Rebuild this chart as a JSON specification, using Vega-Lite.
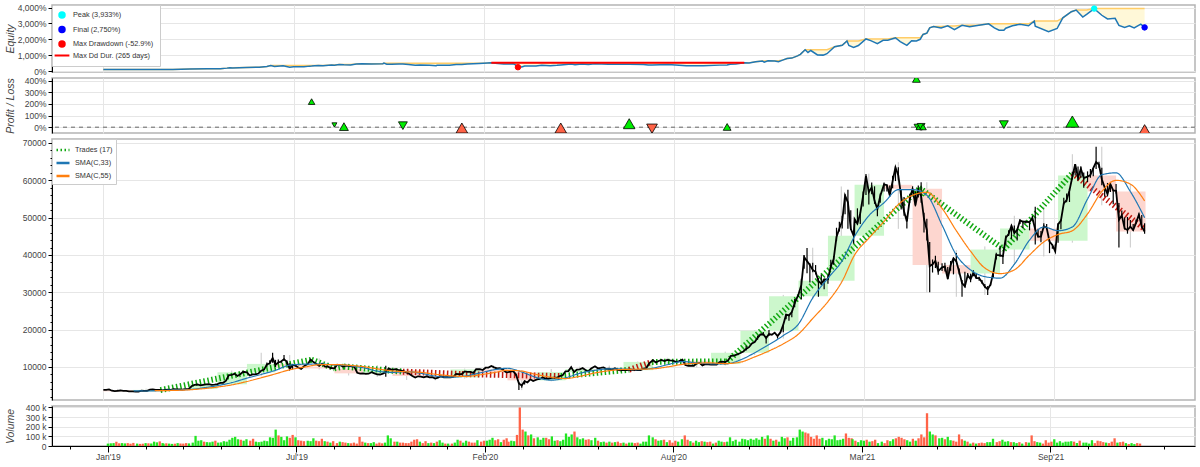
{
"$schema":"https://vega.github.io/schema/vega-lite/v6.json",
"background":"white",
"padding":{"left":4,"top":2,"right":4,"bottom":0},
"bounds":"flush",
"spacing":6,
"resolve":{"scale":{"color":"independent","stroke":"independent","shape":"independent","strokeDash":"independent","size":"independent"},"legend":{"color":"independent","stroke":"independent","shape":"independent","strokeDash":"independent","size":"independent"}},
"config":{
 "font":"Liberation Sans",
 "view":{"stroke":"#b4b4b4","strokeWidth":1.5},
 "axis":{"labelFont":"Liberation Sans","titleFont":"Liberation Sans","labelFontSize":8.5,"labelColor":"#444","titleFontSize":10.5,"titleFontStyle":"italic","titleFontWeight":"normal","titleColor":"#444","gridColor":"#e6e6e6","domainColor":"#000","tickColor":"#000","tickCount":500},
 "axisY":{"minExtent":34,"maxExtent":34,"titlePadding":3,"tickSize":4,"labelPadding":2},
 "legend":{"labelFont":"Liberation Sans"}
},
"datasets":{
"px":[
{"d":"2019-01-01","c":3840,"v":25,"u":1},{"d":"2019-01-04","c":3850,"v":28,"u":1},{"d":"2019-01-07","c":4000,"v":30,"u":1},{"d":"2019-01-10","c":3630,"v":45,"u":0},{"d":"2019-01-13","c":3510,"v":28,"u":0},{"d":"2019-01-16","c":3620,"v":30,"u":1},{"d":"2019-01-19","c":3700,"v":27,"u":1},{"d":"2019-01-22","c":3590,"v":30,"u":0},{"d":"2019-01-25","c":3570,"v":24,"u":0},{"d":"2019-01-28","c":3440,"v":32,"u":0},
{"d":"2019-02-01","c":3480,"v":25,"u":1},{"d":"2019-02-04","c":3410,"v":22,"u":0},{"d":"2019-02-07","c":3400,"v":24,"u":0},{"d":"2019-02-10","c":3650,"v":30,"u":1},{"d":"2019-02-13","c":3600,"v":28,"u":0},{"d":"2019-02-16","c":3620,"v":26,"u":1},{"d":"2019-02-19","c":3920,"v":45,"u":1},{"d":"2019-02-22","c":3990,"v":38,"u":1},{"d":"2019-02-25","c":3840,"v":48,"u":0},{"d":"2019-02-28","c":3850,"v":30,"u":1},
{"d":"2019-03-01","c":3860,"v":24,"u":1},{"d":"2019-03-04","c":3740,"v":28,"u":0},{"d":"2019-03-07","c":3880,"v":25,"u":1},{"d":"2019-03-10","c":3930,"v":22,"u":1},{"d":"2019-03-13","c":3870,"v":24,"u":0},{"d":"2019-03-16","c":4030,"v":30,"u":1},{"d":"2019-03-19","c":4010,"v":26,"u":0},{"d":"2019-03-22","c":4000,"v":25,"u":0},{"d":"2019-03-25","c":3920,"v":30,"u":0},{"d":"2019-03-28","c":4050,"v":27,"u":1},
{"d":"2019-04-01","c":4140,"v":35,"u":1},{"d":"2019-04-04","c":4900,"v":105,"u":1},{"d":"2019-04-07","c":5180,"v":55,"u":1},{"d":"2019-04-10","c":5300,"v":60,"u":1},{"d":"2019-04-13","c":5070,"v":45,"u":0},{"d":"2019-04-16","c":5220,"v":40,"u":1},{"d":"2019-04-19","c":5310,"v":38,"u":1},{"d":"2019-04-22","c":5400,"v":45,"u":1},{"d":"2019-04-25","c":5200,"v":55,"u":0},{"d":"2019-04-28","c":5280,"v":35,"u":1},
{"d":"2019-05-01","c":5400,"v":38,"u":1},{"d":"2019-05-04","c":5750,"v":50,"u":1},{"d":"2019-05-07","c":5750,"v":45,"u":1},{"d":"2019-05-10","c":6350,"v":65,"u":1},{"d":"2019-05-13","c":7800,"v":85,"u":1},{"d":"2019-05-16","c":7900,"v":95,"u":1},{"d":"2019-05-19","c":8200,"v":70,"u":1},{"d":"2019-05-22","c":7600,"v":65,"u":0},{"d":"2019-05-25","c":8050,"v":55,"u":1},{"d":"2019-05-28","c":8700,"v":70,"u":1},
{"d":"2019-06-01","c":8550,"v":55,"u":0},{"d":"2019-06-04","c":7700,"v":75,"u":0},{"d":"2019-06-07","c":8000,"v":45,"u":1},{"d":"2019-06-10","c":8000,"v":40,"u":1},{"d":"2019-06-13","c":8230,"v":45,"u":1},{"d":"2019-06-16","c":8990,"v":55,"u":1},{"d":"2019-06-19","c":9280,"v":50,"u":1},{"d":"2019-06-22","c":10700,"v":90,"u":1,"h":11200,"l":10100},{"d":"2019-06-25","c":11000,"v":85,"u":1,"h":11800,"l":10700},{"d":"2019-06-28","c":12400,"v":170,"u":1,"h":13800,"l":11100},
{"d":"2019-07-01","c":10600,"v":110,"u":0,"h":11900,"l":10000},{"d":"2019-07-04","c":11200,"v":95,"u":1,"h":12000,"l":10900},{"d":"2019-07-07","c":11450,"v":60,"u":1,"h":11650,"l":11000},{"d":"2019-07-10","c":12100,"v":100,"u":1,"h":13200,"l":11600},{"d":"2019-07-13","c":11350,"v":85,"u":0,"h":11800,"l":10800},{"d":"2019-07-16","c":9450,"v":115,"u":0,"h":11000,"l":9350},{"d":"2019-07-19","c":10600,"v":90,"u":1,"h":10700,"l":9350},{"d":"2019-07-22","c":10350,"v":60,"u":0},{"d":"2019-07-25","c":9870,"v":55,"u":0},{"d":"2019-07-28","c":9500,"v":50,"u":0},
{"d":"2019-08-01","c":10400,"v":55,"u":1},{"d":"2019-08-04","c":10800,"v":50,"u":1},{"d":"2019-08-07","c":11950,"v":80,"u":1},{"d":"2019-08-10","c":11300,"v":55,"u":0},{"d":"2019-08-13","c":10800,"v":50,"u":0},{"d":"2019-08-16","c":10300,"v":75,"u":0},{"d":"2019-08-19","c":10900,"v":50,"u":1},{"d":"2019-08-22","c":10100,"v":45,"u":0},{"d":"2019-08-25","c":10150,"v":35,"u":1},{"d":"2019-08-28","c":9720,"v":50,"u":0},
{"d":"2019-09-01","c":9630,"v":30,"u":0},{"d":"2019-09-04","c":10600,"v":45,"u":1},{"d":"2019-09-07","c":10450,"v":40,"u":0},{"d":"2019-09-10","c":10100,"v":35,"u":0},{"d":"2019-09-13","c":10350,"v":30,"u":1},{"d":"2019-09-16","c":10270,"v":28,"u":0},{"d":"2019-09-19","c":10180,"v":35,"u":0},{"d":"2019-09-22","c":10000,"v":25,"u":0},{"d":"2019-09-25","c":8450,"v":95,"u":0},{"d":"2019-09-28","c":8200,"v":45,"u":0},
{"d":"2019-10-01","c":8300,"v":35,"u":1},{"d":"2019-10-04","c":8150,"v":30,"u":0},{"d":"2019-10-07","c":8200,"v":30,"u":1},{"d":"2019-10-10","c":8600,"v":40,"u":1},{"d":"2019-10-13","c":8300,"v":25,"u":0},{"d":"2019-10-16","c":8000,"v":35,"u":0},{"d":"2019-10-19","c":7980,"v":28,"u":0},{"d":"2019-10-22","c":8200,"v":35,"u":1},{"d":"2019-10-25","c":8660,"v":110,"u":1,"h":10300,"l":7400},{"d":"2019-10-28","c":9550,"v":80,"u":1},
{"d":"2019-11-01","c":9250,"v":45,"u":0},{"d":"2019-11-04","c":9410,"v":45,"u":1},{"d":"2019-11-07","c":9200,"v":35,"u":0},{"d":"2019-11-10","c":9050,"v":35,"u":0},{"d":"2019-11-13","c":8800,"v":30,"u":0},{"d":"2019-11-16","c":8500,"v":30,"u":0},{"d":"2019-11-19","c":8100,"v":45,"u":0},{"d":"2019-11-22","c":7600,"v":65,"u":0},{"d":"2019-11-25","c":7150,"v":70,"u":0},{"d":"2019-11-28","c":7500,"v":45,"u":1},
{"d":"2019-12-01","c":7420,"v":30,"u":0},{"d":"2019-12-04","c":7200,"v":50,"u":0},{"d":"2019-12-07","c":7500,"v":30,"u":1},{"d":"2019-12-10","c":7220,"v":35,"u":0},{"d":"2019-12-13","c":7250,"v":30,"u":1},{"d":"2019-12-16","c":6900,"v":45,"u":0},{"d":"2019-12-19","c":7150,"v":60,"u":1},{"d":"2019-12-22","c":7500,"v":35,"u":1},{"d":"2019-12-25","c":7250,"v":25,"u":0},{"d":"2019-12-28","c":7300,"v":25,"u":1},
{"d":"2020-01-01","c":7200,"v":25,"u":0},{"d":"2020-01-04","c":7350,"v":35,"u":1},{"d":"2020-01-07","c":8150,"v":65,"u":1},{"d":"2020-01-10","c":8050,"v":55,"u":0},{"d":"2020-01-13","c":8110,"v":35,"u":1},{"d":"2020-01-16","c":8800,"v":55,"u":1},{"d":"2020-01-19","c":8700,"v":45,"u":0},{"d":"2020-01-22","c":8660,"v":35,"u":0},{"d":"2020-01-25","c":8400,"v":35,"u":0},{"d":"2020-01-28","c":9400,"v":60,"u":1},
{"d":"2020-02-01","c":9390,"v":45,"u":0},{"d":"2020-02-04","c":9180,"v":55,"u":0},{"d":"2020-02-07","c":9800,"v":55,"u":1},{"d":"2020-02-10","c":9850,"v":65,"u":1},{"d":"2020-02-13","c":10250,"v":85,"u":1},{"d":"2020-02-16","c":9900,"v":60,"u":0},{"d":"2020-02-19","c":9600,"v":70,"u":0},{"d":"2020-02-22","c":9700,"v":40,"u":1},{"d":"2020-02-25","c":9300,"v":65,"u":0},{"d":"2020-02-28","c":8700,"v":80,"u":0},
{"d":"2020-03-01","c":8550,"v":45,"u":0},{"d":"2020-03-04","c":8760,"v":55,"u":1},{"d":"2020-03-07","c":8900,"v":50,"u":1},{"d":"2020-03-10","c":7950,"v":115,"u":0,"h":8200,"l":7600},{"d":"2020-03-13","c":5600,"v":400,"u":0,"h":5900,"l":3800},{"d":"2020-03-16","c":5050,"v":170,"u":0,"h":5400,"l":4450},{"d":"2020-03-19","c":6200,"v":150,"u":1,"h":6400,"l":5300},{"d":"2020-03-22","c":5850,"v":110,"u":0},{"d":"2020-03-25","c":6700,"v":120,"u":1},{"d":"2020-03-28","c":6250,"v":80,"u":0},
{"d":"2020-04-01","c":6650,"v":90,"u":1},{"d":"2020-04-04","c":6780,"v":65,"u":1},{"d":"2020-04-07","c":7200,"v":85,"u":1},{"d":"2020-04-10","c":6880,"v":85,"u":0},{"d":"2020-04-13","c":6850,"v":70,"u":0},{"d":"2020-04-16","c":7100,"v":100,"u":1},{"d":"2020-04-19","c":7130,"v":55,"u":1},{"d":"2020-04-22","c":7120,"v":60,"u":0},{"d":"2020-04-25","c":7540,"v":50,"u":1},{"d":"2020-04-28","c":7760,"v":65,"u":1},
{"d":"2020-05-01","c":8850,"v":130,"u":1},{"d":"2020-05-04","c":8900,"v":95,"u":1},{"d":"2020-05-07","c":9950,"v":120,"u":1},{"d":"2020-05-10","c":8600,"v":150,"u":0},{"d":"2020-05-13","c":9300,"v":90,"u":1},{"d":"2020-05-16","c":9380,"v":70,"u":1},{"d":"2020-05-19","c":9730,"v":80,"u":1},{"d":"2020-05-22","c":9180,"v":65,"u":0},{"d":"2020-05-25","c":8800,"v":70,"u":0},{"d":"2020-05-28","c":9570,"v":60,"u":1},
{"d":"2020-06-01","c":10200,"v":85,"u":1},{"d":"2020-06-04","c":9650,"v":55,"u":0},{"d":"2020-06-07","c":9750,"v":40,"u":1},{"d":"2020-06-10","c":9880,"v":45,"u":1},{"d":"2020-06-13","c":9470,"v":35,"u":0},{"d":"2020-06-16","c":9520,"v":45,"u":1},{"d":"2020-06-19","c":9300,"v":35,"u":0},{"d":"2020-06-22","c":9680,"v":40,"u":1},{"d":"2020-06-25","c":9250,"v":45,"u":0},{"d":"2020-06-28","c":9120,"v":30,"u":0},
{"d":"2020-07-01","c":9230,"v":35,"u":1},{"d":"2020-07-04","c":9130,"v":25,"u":0},{"d":"2020-07-07","c":9250,"v":35,"u":1},{"d":"2020-07-10","c":9270,"v":35,"u":1},{"d":"2020-07-13","c":9240,"v":30,"u":0},{"d":"2020-07-16","c":9130,"v":35,"u":0},{"d":"2020-07-19","c":9170,"v":25,"u":1},{"d":"2020-07-22","c":9550,"v":45,"u":1},{"d":"2020-07-25","c":9700,"v":45,"u":1},{"d":"2020-07-28","c":10950,"v":110,"u":1},
{"d":"2020-08-01","c":11800,"v":90,"u":1},{"d":"2020-08-04","c":11220,"v":70,"u":0},{"d":"2020-08-07","c":11600,"v":55,"u":1},{"d":"2020-08-10","c":11880,"v":60,"u":1},{"d":"2020-08-13","c":11600,"v":65,"u":0},{"d":"2020-08-16","c":11900,"v":40,"u":1},{"d":"2020-08-19","c":11770,"v":60,"u":0},{"d":"2020-08-22","c":11680,"v":35,"u":0},{"d":"2020-08-25","c":11350,"v":55,"u":0},{"d":"2020-08-28","c":11500,"v":45,"u":1},
{"d":"2020-09-01","c":11950,"v":70,"u":1},{"d":"2020-09-04","c":10520,"v":110,"u":0},{"d":"2020-09-07","c":10280,"v":65,"u":0},{"d":"2020-09-10","c":10350,"v":50,"u":1},{"d":"2020-09-13","c":10330,"v":35,"u":0},{"d":"2020-09-16","c":10950,"v":55,"u":1},{"d":"2020-09-19","c":11080,"v":40,"u":1},{"d":"2020-09-22","c":10420,"v":50,"u":0},{"d":"2020-09-25","c":10730,"v":45,"u":1},{"d":"2020-09-28","c":10700,"v":40,"u":0},
{"d":"2020-10-01","c":10620,"v":45,"u":0},{"d":"2020-10-04","c":10690,"v":25,"u":1},{"d":"2020-10-07","c":10650,"v":35,"u":0},{"d":"2020-10-10","c":11300,"v":55,"u":1},{"d":"2020-10-13","c":11430,"v":45,"u":1},{"d":"2020-10-16","c":11320,"v":40,"u":0},{"d":"2020-10-19","c":11750,"v":45,"u":1},{"d":"2020-10-22","c":12990,"v":90,"u":1},{"d":"2020-10-25","c":13030,"v":50,"u":1},{"d":"2020-10-28","c":13290,"v":65,"u":1},
{"d":"2020-11-01","c":13740,"v":45,"u":1},{"d":"2020-11-04","c":14150,"v":75,"u":1},{"d":"2020-11-07","c":14850,"v":70,"u":1,"h":15700,"l":14400},{"d":"2020-11-10","c":15300,"v":60,"u":1},{"d":"2020-11-13","c":16300,"v":75,"u":1},{"d":"2020-11-16","c":16700,"v":65,"u":1},{"d":"2020-11-19","c":17800,"v":80,"u":1,"h":18400,"l":17300},{"d":"2020-11-22","c":18700,"v":65,"u":1},{"d":"2020-11-25","c":18750,"v":95,"u":1,"h":19400,"l":18500},{"d":"2020-11-28","c":17750,"v":75,"u":0,"h":18200,"l":16300},
{"d":"2020-12-01","c":18800,"v":110,"u":1,"h":19900,"l":18300},{"d":"2020-12-04","c":18650,"v":75,"u":0},{"d":"2020-12-07","c":19200,"v":55,"u":1},{"d":"2020-12-10","c":18300,"v":65,"u":0,"h":18600,"l":17600},{"d":"2020-12-13","c":19250,"v":45,"u":1},{"d":"2020-12-16","c":21300,"v":95,"u":1,"h":21500,"l":19300},{"d":"2020-12-19","c":24000,"v":80,"u":1,"h":24200,"l":22800},{"d":"2020-12-22","c":23800,"v":90,"u":0,"h":24000,"l":22400},{"d":"2020-12-25","c":24700,"v":55,"u":1,"h":24800,"l":23300},{"d":"2020-12-28","c":27100,"v":85,"u":1,"h":28200,"l":26000},
{"d":"2021-01-01","c":29400,"v":90,"u":1,"h":29600,"l":28800},{"d":"2021-01-04","c":31950,"v":170,"u":1,"h":33600,"l":28100},{"d":"2021-01-07","c":39400,"v":150,"u":1,"h":40000,"l":36300},{"d":"2021-01-10","c":38350,"v":140,"u":0,"h":41900,"l":35100},{"d":"2021-01-13","c":37300,"v":130,"u":0,"h":37800,"l":32600},{"d":"2021-01-16","c":36000,"v":95,"u":0,"h":37900,"l":35400},{"d":"2021-01-19","c":35500,"v":75,"u":0,"h":37300,"l":34800},{"d":"2021-01-22","c":33000,"v":110,"u":0,"h":33800,"l":28800},{"d":"2021-01-25","c":32300,"v":75,"u":0,"h":34800,"l":31900},{"d":"2021-01-28","c":33400,"v":85,"u":1,"h":33700,"l":30800},
{"d":"2021-02-01","c":33500,"v":60,"u":1,"h":34700,"l":32300},{"d":"2021-02-04","c":36900,"v":75,"u":1,"h":38700,"l":36200},{"d":"2021-02-07","c":38900,"v":70,"u":1,"h":39700,"l":37400},{"d":"2021-02-10","c":44800,"v":110,"u":1,"h":47300,"l":43700},{"d":"2021-02-13","c":47100,"v":60,"u":1,"h":48900,"l":46300},{"d":"2021-02-16","c":49100,"v":65,"u":1,"h":50500,"l":47100},{"d":"2021-02-19","c":55900,"v":75,"u":1,"h":56300,"l":50900},{"d":"2021-02-22","c":54100,"v":130,"u":0,"h":57500,"l":47000},{"d":"2021-02-25","c":47000,"v":85,"u":0,"h":52000,"l":46700},{"d":"2021-02-28","c":45200,"v":80,"u":0,"h":46700,"l":43000},
{"d":"2021-03-01","c":49600,"v":70,"u":1,"h":49800,"l":45000},{"d":"2021-03-04","c":48400,"v":55,"u":0,"h":52500,"l":48100},{"d":"2021-03-07","c":51200,"v":40,"u":1,"h":51400,"l":48300},{"d":"2021-03-10","c":55900,"v":60,"u":1,"h":57000,"l":53000},{"d":"2021-03-13","c":61200,"v":55,"u":1,"h":61700,"l":56100},{"d":"2021-03-16","c":56800,"v":65,"u":0,"h":56900,"l":53500},{"d":"2021-03-19","c":58100,"v":45,"u":1,"h":59400,"l":56300},{"d":"2021-03-22","c":54500,"v":50,"u":0,"h":58400,"l":53700},{"d":"2021-03-25","c":52300,"v":65,"u":0,"h":53100,"l":50400},{"d":"2021-03-28","c":55800,"v":30,"u":1,"h":56500,"l":54000},
{"d":"2021-04-01","c":58900,"v":45,"u":1,"h":59400,"l":57000},{"d":"2021-04-04","c":58700,"v":30,"u":0,"h":58900,"l":57000},{"d":"2021-04-07","c":56000,"v":60,"u":0,"h":58600,"l":55500},{"d":"2021-04-10","c":59800,"v":50,"u":1,"h":61200,"l":57900},{"d":"2021-04-13","c":63500,"v":70,"u":1,"h":63700,"l":59800},{"d":"2021-04-16","c":61300,"v":80,"u":0,"h":63500,"l":60000},{"d":"2021-04-19","c":55700,"v":95,"u":0,"h":57500,"l":52200},{"d":"2021-04-22","c":51700,"v":85,"u":0,"h":55500,"l":50500},{"d":"2021-04-25","c":49000,"v":70,"u":0,"h":50500,"l":47100},{"d":"2021-04-28","c":54900,"v":60,"u":1,"h":56400,"l":53900},
{"d":"2021-05-01","c":57800,"v":45,"u":1,"h":58400,"l":57000},{"d":"2021-05-04","c":53300,"v":75,"u":0,"h":57000,"l":53000},{"d":"2021-05-07","c":57300,"v":55,"u":1,"h":58600,"l":55400},{"d":"2021-05-10","c":55800,"v":80,"u":0,"h":59500,"l":54000},{"d":"2021-05-13","c":49700,"v":120,"u":0,"h":51300,"l":46000},{"d":"2021-05-16","c":46700,"v":90,"u":0,"h":49700,"l":43900},{"d":"2021-05-19","c":37000,"v":340,"u":0,"h":43500,"l":30000},{"d":"2021-05-22","c":37500,"v":150,"u":1,"h":38800,"l":35300},{"d":"2021-05-25","c":38400,"v":120,"u":1,"h":39800,"l":36500},{"d":"2021-05-28","c":35700,"v":110,"u":0,"h":38200,"l":34700},
{"d":"2021-06-01","c":36700,"v":80,"u":1,"h":37800,"l":35700},{"d":"2021-06-04","c":36900,"v":85,"u":1,"h":37900,"l":35600},{"d":"2021-06-07","c":33600,"v":70,"u":0,"h":36800,"l":33400},{"d":"2021-06-10","c":37300,"v":95,"u":1,"h":38400,"l":35800},{"d":"2021-06-13","c":39100,"v":60,"u":1,"h":39300,"l":34800},{"d":"2021-06-16","c":38300,"v":55,"u":0,"h":40500,"l":38100},{"d":"2021-06-19","c":35500,"v":45,"u":0,"h":36400,"l":34800},{"d":"2021-06-22","c":32500,"v":120,"u":0,"h":33300,"l":28800},{"d":"2021-06-25","c":31600,"v":70,"u":0,"h":35500,"l":31300},{"d":"2021-06-28","c":34600,"v":55,"u":1,"h":35200,"l":33900},
{"d":"2021-07-01","c":33500,"v":45,"u":0,"h":35000,"l":32700},{"d":"2021-07-04","c":35300,"v":25,"u":1,"h":35900,"l":34300},{"d":"2021-07-07","c":33800,"v":35,"u":0,"h":35000,"l":33700},{"d":"2021-07-10","c":33800,"v":25,"u":1,"h":34200,"l":33100},{"d":"2021-07-13","c":32700,"v":30,"u":0,"h":33300,"l":32300},{"d":"2021-07-16","c":31500,"v":35,"u":0,"h":32200,"l":31200},{"d":"2021-07-19","c":30800,"v":30,"u":0,"h":31700,"l":29300},{"d":"2021-07-22","c":32100,"v":40,"u":1,"h":32500,"l":31700},{"d":"2021-07-25","c":35400,"v":40,"u":1,"h":35400,"l":33900},{"d":"2021-07-28","c":40000,"v":75,"u":1,"h":40600,"l":38800},
{"d":"2021-08-01","c":39900,"v":40,"u":0,"h":42500,"l":39500},{"d":"2021-08-04","c":39700,"v":50,"u":0,"h":39900,"l":37600},{"d":"2021-08-07","c":44600,"v":65,"u":1,"h":45200,"l":42800},{"d":"2021-08-10","c":45600,"v":45,"u":1,"h":46600,"l":45100},{"d":"2021-08-13","c":47800,"v":50,"u":1,"h":48100,"l":44300},{"d":"2021-08-16","c":45900,"v":40,"u":0,"h":47900,"l":45500},{"d":"2021-08-19","c":46700,"v":40,"u":1,"h":47000,"l":43900},{"d":"2021-08-22","c":49300,"v":30,"u":1,"h":49500,"l":48300},{"d":"2021-08-25","c":48900,"v":40,"u":0,"h":49200,"l":47200},{"d":"2021-08-28","c":48900,"v":25,"u":1,"h":49200,"l":48400},
{"d":"2021-09-01","c":48800,"v":40,"u":0,"h":49100,"l":46600},{"d":"2021-09-04","c":49900,"v":35,"u":1,"h":50500,"l":49500},{"d":"2021-09-07","c":46800,"v":110,"u":0,"h":52900,"l":42800},{"d":"2021-09-10","c":44900,"v":50,"u":0,"h":47000,"l":44700},{"d":"2021-09-13","c":44900,"v":40,"u":1,"h":46400,"l":43400},{"d":"2021-09-16","c":47700,"v":35,"u":1,"h":48500,"l":47100},{"d":"2021-09-19","c":47300,"v":25,"u":0,"h":48300,"l":46900},{"d":"2021-09-22","c":43600,"v":60,"u":0,"h":44000,"l":40500},{"d":"2021-09-25","c":42700,"v":35,"u":0,"h":42800,"l":41700},{"d":"2021-09-28","c":41000,"v":45,"u":0,"h":42800,"l":40900},
{"d":"2021-10-01","c":48200,"v":70,"u":1,"h":48500,"l":43300},{"d":"2021-10-04","c":49200,"v":35,"u":1,"h":49500,"l":46900},{"d":"2021-10-07","c":53800,"v":50,"u":1,"h":55300,"l":53500},{"d":"2021-10-10","c":54700,"v":35,"u":1,"h":56500,"l":54100},{"d":"2021-10-13","c":57300,"v":45,"u":1,"h":57800,"l":54200},{"d":"2021-10-16","c":60900,"v":45,"u":1,"h":62300,"l":60200},{"d":"2021-10-19","c":64300,"v":50,"u":1,"h":64400,"l":61300},{"d":"2021-10-22","c":60700,"v":45,"u":0,"h":63700,"l":60000},{"d":"2021-10-25","c":63100,"v":30,"u":1,"h":63700,"l":60700},{"d":"2021-10-28","c":60600,"v":55,"u":0,"h":62100,"l":58000},
{"d":"2021-11-01","c":61000,"v":35,"u":1,"h":62400,"l":59500},{"d":"2021-11-04","c":61400,"v":35,"u":1,"h":63000,"l":60700},{"d":"2021-11-07","c":63300,"v":25,"u":1,"h":63300,"l":61100},{"d":"2021-11-10","c":64900,"v":60,"u":1,"h":69000,"l":63000},{"d":"2021-11-13","c":64200,"v":30,"u":0,"h":65000,"l":63400},{"d":"2021-11-16","c":60300,"v":55,"u":0,"h":63400,"l":58700},{"d":"2021-11-19","c":58100,"v":50,"u":0,"h":58300,"l":55600},{"d":"2021-11-22","c":56300,"v":40,"u":0,"h":59300,"l":55700},{"d":"2021-11-25","c":59000,"v":35,"u":1,"h":59300,"l":56900},{"d":"2021-11-28","c":57300,"v":30,"u":0,"h":57400,"l":53600},
{"d":"2021-12-01","c":57200,"v":45,"u":0,"h":59000,"l":56500},{"d":"2021-12-04","c":49400,"v":80,"u":0,"h":53900,"l":42000},{"d":"2021-12-07","c":50600,"v":35,"u":1,"h":51900,"l":50100},{"d":"2021-12-10","c":47100,"v":40,"u":0,"h":50100,"l":46800},{"d":"2021-12-13","c":46700,"v":45,"u":0,"h":50200,"l":45700},{"d":"2021-12-16","c":47600,"v":30,"u":1,"h":49400,"l":47500},{"d":"2021-12-19","c":46700,"v":20,"u":0,"h":48300,"l":46500},{"d":"2021-12-22","c":48600,"v":30,"u":1,"h":49500,"l":48400},{"d":"2021-12-25","c":50800,"v":20,"u":1,"h":51100,"l":50200},{"d":"2021-12-28","c":47600,"v":30,"u":0,"h":50700,"l":47300},{"d":"2021-12-31","c":46300,"v":25,"u":0,"h":48500,"l":45700}
],
"sma":[
{"d":"2019-02-02","a":3620},{"d":"2019-02-16","a":3560},{"d":"2019-02-24","a":3600,"b":3640},{"d":"2019-03-01","a":3660,"b":3640},{"d":"2019-03-16","a":3850,"b":3720},{"d":"2019-04-01","a":3960,"b":3870},{"d":"2019-04-16","a":4400,"b":4180},{"d":"2019-05-01","a":5000,"b":4620},{"d":"2019-05-16","a":5800,"b":5200},{"d":"2019-06-01","a":7000,"b":6100},{"d":"2019-06-16","a":8000,"b":7100},{"d":"2019-07-01","a":9100,"b":8150},{"d":"2019-07-16","a":10500,"b":9250},{"d":"2019-08-01","a":10750,"b":10000},{"d":"2019-08-16","a":10800,"b":10600},{"d":"2019-09-01","a":10550,"b":10650},{"d":"2019-09-16","a":10350,"b":10450},{"d":"2019-10-01","a":9800,"b":10100},{"d":"2019-10-16","a":8900,"b":9500},{"d":"2019-11-01","a":8550,"b":8950},{"d":"2019-11-16","a":8750,"b":8700},{"d":"2019-12-01","a":8300,"b":8550},{"d":"2019-12-16","a":7550,"b":8050},
{"d":"2020-01-01","a":7250,"b":7650},{"d":"2020-01-16","a":7550,"b":7450},{"d":"2020-02-01","a":8400,"b":7900},{"d":"2020-02-16","a":9250,"b":8500},{"d":"2020-03-01","a":9650,"b":9100},{"d":"2020-03-16","a":8650,"b":8900},{"d":"2020-04-01","a":7150,"b":7950},{"d":"2020-04-16","a":6450,"b":7250},{"d":"2020-05-01","a":7100,"b":6900},{"d":"2020-05-16","a":8300,"b":7500},{"d":"2020-06-01","a":9100,"b":8400},{"d":"2020-06-16","a":9500,"b":9000},{"d":"2020-07-01","a":9450,"b":9350},{"d":"2020-07-16","a":9300,"b":9400},{"d":"2020-08-01","a":9700,"b":9500},{"d":"2020-08-16","a":10600,"b":10000},{"d":"2020-09-01","a":11450,"b":10700},{"d":"2020-09-16","a":11100,"b":11000},{"d":"2020-10-01","a":10850,"b":11100},{"d":"2020-10-16","a":10800,"b":10900},{"d":"2020-11-01","a":11900,"b":11300},{"d":"2020-11-16","a":13800,"b":12700},{"d":"2020-12-01","a":16000,"b":14300},{"d":"2020-12-16","a":18400,"b":16200},
{"d":"2021-01-01","a":21500,"b":18800},{"d":"2021-01-16","a":28500,"b":23000},{"d":"2021-02-01","a":33800,"b":27500},{"d":"2021-02-16","a":38500,"b":33000},{"d":"2021-03-01","a":45000,"b":40000},{"d":"2021-03-16","a":50500,"b":44500},{"d":"2021-04-01","a":54000,"b":49000},{"d":"2021-04-16","a":57500,"b":53500},{"d":"2021-05-01","a":57500,"b":56000},{"d":"2021-05-16","a":56000,"b":56800},{"d":"2021-06-01","a":48000,"b":52500},{"d":"2021-06-16","a":40000,"b":46500},{"d":"2021-07-01","a":36000,"b":41000},{"d":"2021-07-16","a":34200,"b":36500},{"d":"2021-08-01","a":33800,"b":35000},{"d":"2021-08-16","a":37500,"b":36000},{"d":"2021-09-01","a":44000,"b":40000},{"d":"2021-09-16","a":47500,"b":43500},{"d":"2021-10-01","a":46500,"b":45500},{"d":"2021-10-16","a":47500,"b":46500},{"d":"2021-11-01","a":55000,"b":51000},{"d":"2021-11-16","a":61500,"b":57000},{"d":"2021-12-01","a":62000,"b":60000},{"d":"2021-12-16","a":57000,"b":59000},{"d":"2021-12-31","a":50000,"b":54500}
],
"mon":[
{"m":"2019-01-01","e":"2019-02-01","mid":"2019-01-16","o":3750,"c":3460,"h":4110,"l":3400,"u":0},
{"m":"2019-02-01","e":"2019-03-01","mid":"2019-02-15","o":3460,"c":3850,"h":4200,"l":3390,"u":1},
{"m":"2019-03-01","e":"2019-04-01","mid":"2019-03-16","o":3850,"c":4110,"h":4150,"l":3730,"u":1},
{"m":"2019-04-01","e":"2019-05-01","mid":"2019-04-16","o":4110,"c":5350,"h":5640,"l":4100,"u":1},
{"m":"2019-05-01","e":"2019-06-01","mid":"2019-05-16","o":5350,"c":8570,"h":9050,"l":5330,"u":1},
{"m":"2019-06-01","e":"2019-07-01","mid":"2019-06-16","o":8570,"c":10820,"h":13800,"l":7500,"u":1},
{"m":"2019-07-01","e":"2019-08-01","mid":"2019-07-16","o":10820,"c":10090,"h":13200,"l":9070,"u":0},
{"m":"2019-08-01","e":"2019-09-01","mid":"2019-08-16","o":10090,"c":9600,"h":12300,"l":9320,"u":0},
{"m":"2019-09-01","e":"2019-10-01","mid":"2019-09-16","o":9600,"c":8290,"h":10950,"l":7720,"u":0},
{"m":"2019-10-01","e":"2019-11-01","mid":"2019-10-16","o":8290,"c":9150,"h":10500,"l":7300,"u":1},
{"m":"2019-11-01","e":"2019-12-01","mid":"2019-11-16","o":9150,"c":7570,"h":9500,"l":6520,"u":0},
{"m":"2019-12-01","e":"2020-01-01","mid":"2019-12-16","o":7570,"c":7190,"h":7750,"l":6430,"u":0},
{"m":"2020-01-01","e":"2020-02-01","mid":"2020-01-16","o":7190,"c":9350,"h":9570,"l":6870,"u":1},
{"m":"2020-02-01","e":"2020-03-01","mid":"2020-02-15","o":9350,"c":8540,"h":10500,"l":8450,"u":0},
{"m":"2020-03-01","e":"2020-04-01","mid":"2020-03-16","o":8540,"c":6410,"h":9190,"l":3800,"u":0},
{"m":"2020-04-01","e":"2020-05-01","mid":"2020-04-16","o":6410,"c":8620,"h":9440,"l":6150,"u":1},
{"m":"2020-05-01","e":"2020-06-01","mid":"2020-05-16","o":8620,"c":9450,"h":10070,"l":8130,"u":1},
{"m":"2020-06-01","e":"2020-07-01","mid":"2020-06-16","o":9450,"c":9140,"h":10380,"l":8900,"u":0},
{"m":"2020-07-01","e":"2020-08-01","mid":"2020-07-16","o":9140,"c":11350,"h":11450,"l":8970,"u":1},
{"m":"2020-08-01","e":"2020-09-01","mid":"2020-08-16","o":11350,"c":11650,"h":12470,"l":10520,"u":1},
{"m":"2020-09-01","e":"2020-10-01","mid":"2020-09-16","o":11650,"c":10780,"h":12090,"l":9880,"u":0},
{"m":"2020-10-01","e":"2020-11-01","mid":"2020-10-16","o":10780,"c":13800,"h":14100,"l":10400,"u":1},
{"m":"2020-11-01","e":"2020-12-01","mid":"2020-11-16","o":13800,"c":19700,"h":19900,"l":13200,"u":1},
{"m":"2020-12-01","e":"2021-01-01","mid":"2020-12-16","o":19700,"c":28950,"h":29300,"l":17600,"u":1},
{"m":"2021-01-01","e":"2021-02-01","mid":"2021-01-16","o":28950,"c":33110,"h":41950,"l":28130,"u":1},
{"m":"2021-02-01","e":"2021-03-01","mid":"2021-02-15","o":33110,"c":45140,"h":58350,"l":32300,"u":1},
{"m":"2021-03-01","e":"2021-04-01","mid":"2021-03-16","o":45140,"c":58800,"h":61790,"l":45000,"u":1},
{"m":"2021-04-01","e":"2021-05-01","mid":"2021-04-16","o":58800,"c":57750,"h":64850,"l":47000,"u":0},
{"m":"2021-05-01","e":"2021-06-01","mid":"2021-05-16","o":57750,"c":37300,"h":59500,"l":30000,"u":0},
{"m":"2021-06-01","e":"2021-07-01","mid":"2021-06-16","o":37300,"c":35040,"h":41300,"l":28800,"u":0},
{"m":"2021-07-01","e":"2021-08-01","mid":"2021-07-16","o":35040,"c":41460,"h":42300,"l":29300,"u":1},
{"m":"2021-08-01","e":"2021-09-01","mid":"2021-08-16","o":41460,"c":47100,"h":50500,"l":37330,"u":1},
{"m":"2021-09-01","e":"2021-10-01","mid":"2021-09-16","o":47100,"c":43800,"h":52900,"l":39600,"u":0},
{"m":"2021-10-01","e":"2021-11-01","mid":"2021-10-16","o":43800,"c":61300,"h":67000,"l":43300,"u":1},
{"m":"2021-11-01","e":"2021-12-01","mid":"2021-11-16","o":61300,"c":57000,"h":69000,"l":53300,"u":0},
{"m":"2021-12-01","e":"2022-01-01","mid":"2021-12-16","o":57000,"c":46300,"h":59000,"l":42000,"u":0}
],
"eq":[
{"d":"2019-01-01","e":100,"p":100},{"d":"2019-03-02","e":100,"p":100},{"d":"2019-03-15","e":103,"p":103},{"d":"2019-04-02","e":129,"p":129},{"d":"2019-04-20","e":139,"p":139},{"d":"2019-05-04","e":151,"p":151},{"d":"2019-05-11","e":184,"p":184},{"d":"2019-05-14","e":210,"p":210},{"d":"2019-05-17","e":192,"p":210},{"d":"2019-05-31","e":226,"p":226},{"d":"2019-06-14","e":237,"p":237},{"d":"2019-06-22","e":290,"p":290},{"d":"2019-06-26","e":342,"p":342},{"d":"2019-06-30","e":284,"p":342},{"d":"2019-07-09","e":329,"p":342},{"d":"2019-07-16","e":247,"p":342},{"d":"2019-07-20","e":276,"p":342},{"d":"2019-07-31","e":266,"p":342},{"d":"2019-08-06","e":310,"p":342},{"d":"2019-08-08","e":313,"p":342},{"d":"2019-08-15","e":355,"p":355},{"d":"2019-08-20","e":339,"p":355},{"d":"2019-08-29","e":376,"p":376},{"d":"2019-09-01","e":373,"p":376},{"d":"2019-09-06","e":408,"p":408},{"d":"2019-09-11","e":392,"p":408},{"d":"2019-09-18","e":388,"p":408},{"d":"2019-09-24","e":450,"p":450},{"d":"2019-09-30","e":462,"p":462},{"d":"2019-10-10","e":450,"p":462},{"d":"2019-10-22","e":466,"p":466},{"d":"2019-10-23","e":497,"p":497},{"d":"2019-10-26","e":427,"p":497},{"d":"2019-10-31","e":429,"p":497},{"d":"2019-11-08","e":442,"p":497},{"d":"2019-11-12","e":444,"p":497},{"d":"2019-11-18","e":411,"p":497},{"d":"2019-11-25","e":360,"p":497},{"d":"2019-11-30","e":383,"p":497},{"d":"2019-12-10","e":365,"p":497},{"d":"2019-12-17","e":335,"p":497},{"d":"2019-12-18","e":370,"p":497},{"d":"2019-12-31","e":365,"p":497},
{"d":"2020-01-07","e":414,"p":497},{"d":"2020-01-13","e":411,"p":497},{"d":"2020-01-19","e":441,"p":497},{"d":"2020-01-31","e":474,"p":497},{"d":"2020-02-09","e":505,"p":505},{"d":"2020-02-13","e":515,"p":515},{"d":"2020-02-17","e":492,"p":515},{"d":"2020-02-26","e":447,"p":515},{"d":"2020-03-07","e":452,"p":515},{"d":"2020-03-09","e":401,"p":515},{"d":"2020-03-12","e":243,"p":515},{"d":"2020-03-13","e":284,"p":515},{"d":"2020-03-16","e":254,"p":515},{"d":"2020-03-19","e":315,"p":515},{"d":"2020-03-31","e":325,"p":515},{"d":"2020-04-06","e":370,"p":515},{"d":"2020-04-15","e":337,"p":515},{"d":"2020-04-22","e":360,"p":515},{"d":"2020-04-26","e":385,"p":515},{"d":"2020-05-07","e":440,"p":515},{"d":"2020-05-11","e":400,"p":515},{"d":"2020-05-18","e":445,"p":515},{"d":"2020-05-25","e":410,"p":515},{"d":"2020-06-01","e":460,"p":515},{"d":"2020-06-15","e":425,"p":515},{"d":"2020-07-07","e":430,"p":515},{"d":"2020-07-22","e":410,"p":515},{"d":"2020-07-27","e":382,"p":515},{"d":"2020-07-31","e":375,"p":515},{"d":"2020-08-17","e":405,"p":515},{"d":"2020-09-05","e":336,"p":515},{"d":"2020-09-23","e":338,"p":515},{"d":"2020-10-10","e":373,"p":515},{"d":"2020-10-18","e":380,"p":515},{"d":"2020-10-21","e":423,"p":515},{"d":"2020-10-27","e":450,"p":515},{"d":"2020-11-05","e":515,"p":515},{"d":"2020-11-10","e":505,"p":515},{"d":"2020-11-17","e":584,"p":584},{"d":"2020-11-24","e":632,"p":632},{"d":"2020-11-26","e":564,"p":632},{"d":"2020-11-30","e":650,"p":650},{"d":"2020-12-07","e":634,"p":650},{"d":"2020-12-11","e":594,"p":650},{"d":"2020-12-16","e":703,"p":703},{"d":"2020-12-20","e":792,"p":792},{"d":"2020-12-25","e":815,"p":815},{"d":"2020-12-31","e":957,"p":957},
{"d":"2021-01-03","e":1056,"p":1056},{"d":"2021-01-08","e":1340,"p":1340},{"d":"2021-01-11","e":1172,"p":1340},{"d":"2021-01-14","e":1294,"p":1340},{"d":"2021-01-21","e":1016,"p":1340},{"d":"2021-01-27","e":1003,"p":1340},{"d":"2021-01-31","e":1092,"p":1340},{"d":"2021-02-08","e":1531,"p":1531},{"d":"2021-02-16","e":1624,"p":1624},{"d":"2021-02-21","e":1898,"p":1898},{"d":"2021-02-23","e":1610,"p":1898},{"d":"2021-02-28","e":1492,"p":1898},{"d":"2021-03-05","e":1610,"p":1898},{"d":"2021-03-13","e":2020,"p":2020},{"d":"2021-03-18","e":1914,"p":2020},{"d":"2021-03-25","e":1726,"p":2020},{"d":"2021-03-31","e":1940,"p":2020},{"d":"2021-04-05","e":1937,"p":2020},{"d":"2021-04-13","e":2096,"p":2096},{"d":"2021-04-18","e":1855,"p":2096},{"d":"2021-04-25","e":1617,"p":2096},{"d":"2021-04-30","e":1907,"p":2096},{"d":"2021-05-05","e":1890,"p":2096},{"d":"2021-05-09","e":2000,"p":2096},{"d":"2021-05-12","e":2303,"p":2303},{"d":"2021-05-16","e":2390,"p":2390},{"d":"2021-05-19","e":2724,"p":2724},{"d":"2021-05-23","e":2803,"p":2803},{"d":"2021-05-31","e":2714,"p":2803},{"d":"2021-06-07","e":2845,"p":2845},{"d":"2021-06-14","e":2614,"p":2845},{"d":"2021-06-22","e":2879,"p":2879},{"d":"2021-06-30","e":2793,"p":2879},{"d":"2021-07-08","e":2869,"p":2879},{"d":"2021-07-20","e":2972,"p":2972},{"d":"2021-07-26","e":2714,"p":2972},{"d":"2021-07-31","e":2569,"p":2972},{"d":"2021-08-05","e":2569,"p":2972},{"d":"2021-08-07","e":2700,"p":2972},{"d":"2021-08-14","e":2850,"p":2972},{"d":"2021-08-22","e":2950,"p":2972},{"d":"2021-08-31","e":2850,"p":2972},{"d":"2021-09-06","e":3150,"p":3150},{"d":"2021-09-07","e":2830,"p":3150},{"d":"2021-09-21","e":2480,"p":3150},{"d":"2021-09-30","e":2680,"p":3150},{"d":"2021-10-06","e":3350,"p":3350},{"d":"2021-10-15","e":3740,"p":3740},{"d":"2021-10-20","e":3840,"p":3840},{"d":"2021-10-27","e":3403,"p":3840},{"d":"2021-10-31","e":3572,"p":3840},{"d":"2021-11-08","e":3933,"p":3933},{"d":"2021-11-16","e":3514,"p":3933},{"d":"2021-11-22","e":3281,"p":3933},{"d":"2021-11-30","e":3321,"p":3933},{"d":"2021-12-04","e":2878,"p":3933},{"d":"2021-12-10","e":2745,"p":3933},{"d":"2021-12-15","e":2849,"p":3933},{"d":"2021-12-20","e":2721,"p":3933},{"d":"2021-12-27","e":2954,"p":3933},{"d":"2021-12-31","e":2750,"p":3933}
],
"dd":[{"d":"2020-02-13","d2":"2020-11-05","e":515}],
"pts":[{"d":"2021-11-08","e":3933,"lab":"Peak (3,933%)"},{"d":"2021-12-31","e":2750,"lab":"Final (2,750%)"},{"d":"2020-03-12","e":243,"lab":"Max Drawdown (-52.9%)"}],
"tr":[
{"en":"2019-03-02","ex":"2019-08-08","pe":3800,"px":11950,"pl":220,"dir":"long","w":1,"sz":6},
{"en":"2019-08-08","ex":"2019-09-01","pe":11950,"px":9630,"pl":19,"dir":"short","w":1,"sz":5},
{"en":"2019-09-01","ex":"2019-09-11","pe":9630,"px":10100,"pl":5,"dir":"long","w":1,"sz":8},
{"en":"2019-09-11","ex":"2019-11-12","pe":10100,"px":8750,"pl":13,"dir":"short","w":1,"sz":8},
{"en":"2019-11-12","ex":"2020-01-13","pe":8750,"px":8100,"pl":-7,"dir":"long","w":0,"sz":11},
{"en":"2020-01-13","ex":"2020-04-26","pe":8100,"px":7540,"pl":-7,"dir":"long","w":0,"sz":11},
{"en":"2020-04-26","ex":"2020-07-07","pe":7540,"px":9250,"pl":30,"dir":"long","w":1,"sz":11},
{"en":"2020-07-07","ex":"2020-07-31","pe":9250,"px":11350,"pl":-13,"dir":"short","w":0,"sz":10},
{"en":"2020-07-31","ex":"2020-10-18","pe":11350,"px":11500,"pl":2,"dir":"long","w":1,"sz":7},
{"en":"2020-10-18","ex":"2021-05-05","pe":11500,"px":57000,"pl":415,"dir":"long","w":1,"sz":7},
{"en":"2021-05-05","ex":"2021-05-06","pe":57000,"px":56500,"pl":1,"dir":"short","w":1,"sz":6},
{"en":"2021-05-06","ex":"2021-05-08","pe":56500,"px":58000,"pl":3,"dir":"long","w":1,"sz":6},
{"en":"2021-05-08","ex":"2021-05-10","pe":58000,"px":56000,"pl":3,"dir":"short","w":1,"sz":7},
{"en":"2021-05-10","ex":"2021-05-12","pe":56000,"px":57000,"pl":2,"dir":"long","w":1,"sz":6},
{"en":"2021-05-08","ex":"2021-08-05","pe":58000,"px":41500,"pl":22,"dir":"short","w":1,"sz":8},
{"en":"2021-08-05","ex":"2021-10-16","pe":41500,"px":61900,"pl":48,"dir":"long","w":1,"sz":13},
{"en":"2021-10-16","ex":"2021-12-31","pe":61900,"px":47000,"pl":-24,"dir":"long","w":0,"sz":12}
]
},
"vconcat":[
{
 "width":1143,"height":67,
 "layer":[
  {"data":{"name":"eq"},"mark":{"type":"area","color":"#fff8d8","opacity":1},
   "encoding":{
    "x":{"field":"d","type":"temporal","scale":{"type":"utc","domain":[1541635200000,1645488000000],"nice":false},
     "axis":{"title":null,"tickCount":500,"values":[1542844800000,1546300800000,1549756800000,1553212800000,1556668800000,1560124800000,1563580800000,1567036800000,1570492800000,1573948800000,1577404800000,1580860800000,1584316800000,1587772800000,1591228800000,1594684800000,1598140800000,1601596800000,1605052800000,1608508800000,1611964800000,1615420800000,1618876800000,1622332800000,1625788800000,1629244800000,1632700800000,1636156800000,1639612800000,1643068800000],"labels":false,"ticks":false,"domain":false,"grid":true,"gridOpacity":{"condition":{"test":"(datum.value - 1546300800000) % 17280000000 == 0","value":1},"value":0}}},
    "y":{"field":"e","type":"quantitative","scale":{"domain":[-60,4160],"nice":false,"zero":false},
     "axis":{"title":"Equity","tickCount":500,"values":[0,1000,2000,3000,4000],"labelExpr":"format(datum.value, ',') + '%'","labelOverlap":false,"grid":true}},
    "y2":{"field":"p"}}},
  {"data":{"name":"eq"},"mark":{"type":"line","color":"#ffcc66","strokeWidth":1.5},
   "encoding":{"x":{"field":"d","type":"temporal","scale":{"type":"utc","domain":[1541635200000,1645488000000],"nice":false}},
    "y":{"field":"p","type":"quantitative","scale":{"domain":[-60,4160],"nice":false,"zero":false}}}},
  {"data":{"name":"eq"},"mark":{"type":"line","color":"#1f77b4","strokeWidth":1.5},
   "encoding":{"x":{"field":"d","type":"temporal","scale":{"type":"utc","domain":[1541635200000,1645488000000],"nice":false}},
    "y":{"field":"e","type":"quantitative","scale":{"domain":[-60,4160],"nice":false,"zero":false}}}},
  {"data":{"name":"dd"},"mark":{"type":"rule","color":"#ff0000","strokeWidth":2},
   "encoding":{"x":{"field":"d","type":"temporal","scale":{"type":"utc","domain":[1541635200000,1645488000000],"nice":false}},"x2":{"field":"d2"},
    "y":{"field":"e","type":"quantitative","scale":{"domain":[-60,4160],"nice":false,"zero":false}}}},
  {"data":{"name":"pts"},"mark":{"type":"point","filled":true,"size":30,"opacity":1,"strokeWidth":1},
   "encoding":{"x":{"field":"d","type":"temporal","scale":{"type":"utc","domain":[1541635200000,1645488000000],"nice":false}},
    "y":{"field":"e","type":"quantitative","scale":{"domain":[-60,4160],"nice":false,"zero":false}},
    "color":{"field":"lab","type":"nominal","scale":{"domain":["Peak (3,933%)","Final (2,750%)","Max Drawdown (-52.9%)","Max Dd Dur. (265 days)"],"range":["#00ffff","#0000ff","#ff0000","#ff0000"]},
     "legend":{"orient":"top-left","offset":0,"title":null,"fillColor":"#ffffff","strokeColor":"#cccccc","padding":6,"rowPadding":0.5,"labelFontSize":7.3,"labelColor":"#333","symbolSize":30,"symbolStrokeWidth":2,"labelOffset":7,"cornerRadius":0}},
    "stroke":{"field":"lab","type":"nominal","scale":{"domain":["Peak (3,933%)","Final (2,750%)","Max Drawdown (-52.9%)","Max Dd Dur. (265 days)"],"range":["#00ffff","#0000ff","#ff0000","#ff0000"]},
     "legend":{"orient":"top-left","offset":0,"title":null,"fillColor":"#ffffff","strokeColor":"#cccccc","padding":6,"rowPadding":0.5,"labelFontSize":7.3,"labelColor":"#333","symbolSize":30,"symbolStrokeWidth":2,"labelOffset":7,"cornerRadius":0}},
    "shape":{"field":"lab","type":"nominal","scale":{"domain":["Peak (3,933%)","Final (2,750%)","Max Drawdown (-52.9%)","Max Dd Dur. (265 days)"],"range":["circle","circle","circle","M-2.7,0H2.7"]},
     "legend":{"orient":"top-left","offset":0,"title":null,"fillColor":"#ffffff","strokeColor":"#cccccc","padding":6,"rowPadding":0.5,"labelFontSize":7.3,"labelColor":"#333","symbolSize":30,"symbolStrokeWidth":2,"labelOffset":7,"cornerRadius":0}}}}
 ]
},
{
 "width":1143,"height":55,
 "layer":[
  {"data":{"values":[{"z":0}]},"mark":{"type":"rule","color":"#666666","strokeDash":[4,4],"strokeWidth":1},
   "encoding":{"y":{"field":"z","type":"quantitative","scale":{"domain":[-50,423],"nice":false,"zero":false},
    "axis":{"title":"Profit / Loss","tickCount":500,"values":[0,100,200,300,400],"labelExpr":"datum.value + '%'","labelOverlap":false,"grid":true}}}},
  {"data":{"name":"tr"},"mark":{"type":"point","filled":true,"opacity":1,"stroke":"#000000","strokeWidth":0.8,"clip":true},
   "encoding":{
    "x":{"field":"ex","type":"temporal","scale":{"type":"utc","domain":[1541635200000,1645488000000],"nice":false},
     "axis":{"title":null,"tickCount":500,"values":[1542844800000,1546300800000,1549756800000,1553212800000,1556668800000,1560124800000,1563580800000,1567036800000,1570492800000,1573948800000,1577404800000,1580860800000,1584316800000,1587772800000,1591228800000,1594684800000,1598140800000,1601596800000,1605052800000,1608508800000,1611964800000,1615420800000,1618876800000,1622332800000,1625788800000,1629244800000,1632700800000,1636156800000,1639612800000,1643068800000],"labels":false,"ticks":false,"domain":false,"grid":true,"gridOpacity":{"condition":{"test":"(datum.value - 1546300800000) % 17280000000 == 0","value":1},"value":0}}},
    "y":{"field":"pl","type":"quantitative","scale":{"domain":[-50,423],"nice":false,"zero":false}},
    "shape":{"field":"dir","type":"nominal","scale":{"domain":["long","short"],"range":["triangle-up","triangle-down"]},"legend":null},
    "color":{"field":"w","type":"nominal","scale":{"domain":[1,0],"range":["#00ee00","#ff6347"]},"legend":null},
    "size":{"field":"sz","type":"quantitative","scale":{"domain":[5,13],"range":[25,169],"zero":false},"legend":null}}}
 ]
},
{
 "width":1143,"height":261,
 "layer":[
  {"data":{"name":"mon"},"mark":{"type":"rule","color":"#c8c8c8","strokeWidth":1},
   "encoding":{
    "x":{"field":"mid","type":"temporal","scale":{"type":"utc","domain":[1541635200000,1645488000000],"nice":false},
     "axis":{"title":null,"tickCount":500,"values":[1542844800000,1546300800000,1549756800000,1553212800000,1556668800000,1560124800000,1563580800000,1567036800000,1570492800000,1573948800000,1577404800000,1580860800000,1584316800000,1587772800000,1591228800000,1594684800000,1598140800000,1601596800000,1605052800000,1608508800000,1611964800000,1615420800000,1618876800000,1622332800000,1625788800000,1629244800000,1632700800000,1636156800000,1639612800000,1643068800000],"labels":false,"ticks":false,"domain":false,"grid":true,"gridOpacity":{"condition":{"test":"(datum.value - 1546300800000) % 17280000000 == 0","value":1},"value":0}}},
    "y":{"field":"l","type":"quantitative","scale":{"domain":[1150,71070],"nice":false,"zero":false},
     "axis":{"title":null,"tickCount":500,"values":[2000,4000,6000,8000,10000,12000,14000,16000,18000,20000,22000,24000,26000,28000,30000,32000,34000,36000,38000,40000,42000,44000,46000,48000,50000,52000,54000,56000,58000,60000,62000,64000,66000,68000,70000],"labelExpr":"datum.value % 10000 == 0 ? '' + datum.value : ''","labelOverlap":false,"grid":true,"gridOpacity":{"condition":{"test":"datum.value % 10000 == 0","value":1},"value":0},"tickSize":{"condition":{"test":"datum.value % 10000 == 0","value":4},"value":2}}},
    "y2":{"field":"h"}}},
  {"data":{"name":"mon"},"mark":{"type":"rect","opacity":1},
   "encoding":{"x":{"field":"m","type":"temporal","scale":{"type":"utc","domain":[1541635200000,1645488000000],"nice":false}},"x2":{"field":"e"},
    "y":{"field":"o","type":"quantitative","scale":{"domain":[1150,71070],"nice":false,"zero":false}},"y2":{"field":"c"},
    "color":{"field":"u","type":"nominal","scale":{"domain":[1,0],"range":["#ccf7cc","#fdd6cf"]},"legend":null}}},
  {"data":{"name":"tr"},"transform":[{"filter":"datum.w == 1"}],"mark":{"type":"rule","strokeWidth":6,"strokeCap":"butt"},
   "encoding":{"x":{"field":"en","type":"temporal","scale":{"type":"utc","domain":[1541635200000,1645488000000],"nice":false}},"x2":{"field":"ex"},
    "y":{"field":"pe","type":"quantitative","scale":{"domain":[1150,71070],"nice":false,"zero":false}},"y2":{"field":"px"},
    "stroke":{"datum":"Trades (17)","scale":{"domain":["Trades (17)","SMA(C,33)","SMA(C,55)"],"range":["#12a812","#1f77b4","#ff7f0e"]},
     "legend":{"orient":"top-left","offset":0,"title":null,"fillColor":"#ffffff","strokeColor":"#cccccc","padding":3,"rowPadding":0,"labelFontSize":7.3,"labelColor":"#333","symbolSize":169,"symbolStrokeWidth":2.5,"labelOffset":4,"symbolType":"stroke","cornerRadius":0}},
    "strokeDash":{"datum":"Trades (17)","scale":{"domain":["Trades (17)","SMA(C,33)","SMA(C,55)"],"range":[[1.5,2.5],[1,0],[1,0]]},
     "legend":{"orient":"top-left","offset":0,"title":null,"fillColor":"#ffffff","strokeColor":"#cccccc","padding":3,"rowPadding":0,"labelFontSize":7.3,"labelColor":"#333","symbolSize":169,"symbolStrokeWidth":2.5,"labelOffset":4,"symbolType":"stroke","cornerRadius":0}}}},
  {"data":{"name":"tr"},"transform":[{"filter":"datum.w == 0"}],"mark":{"type":"rule","strokeWidth":6,"strokeCap":"butt","color":"#c01a10","strokeDash":[1.5,2.5]},
   "encoding":{"x":{"field":"en","type":"temporal","scale":{"type":"utc","domain":[1541635200000,1645488000000],"nice":false}},"x2":{"field":"ex"},
    "y":{"field":"pe","type":"quantitative","scale":{"domain":[1150,71070],"nice":false,"zero":false}},"y2":{"field":"px"}}},
  {"data":{"name":"px"},"mark":{"type":"rule","color":"#000000","strokeWidth":1.2},
   "encoding":{"x":{"field":"d","type":"temporal","scale":{"type":"utc","domain":[1541635200000,1645488000000],"nice":false}},
    "y":{"field":"l","type":"quantitative","scale":{"domain":[1150,71070],"nice":false,"zero":false}},"y2":{"field":"h"}}},
  {"data":{"name":"px"},"mark":{"type":"line","color":"#000000","strokeWidth":1.8},
   "encoding":{"x":{"field":"d","type":"temporal","scale":{"type":"utc","domain":[1541635200000,1645488000000],"nice":false}},
    "y":{"field":"c","type":"quantitative","scale":{"domain":[1150,71070],"nice":false,"zero":false}}}},
  {"data":{"name":"sma"},"mark":{"type":"line","strokeWidth":1.2,"interpolate":"monotone"},
   "encoding":{"x":{"field":"d","type":"temporal","scale":{"type":"utc","domain":[1541635200000,1645488000000],"nice":false}},
    "y":{"field":"a","type":"quantitative","scale":{"domain":[1150,71070],"nice":false,"zero":false}},
    "stroke":{"datum":"SMA(C,33)"},"strokeDash":{"datum":"SMA(C,33)"}}},
  {"data":{"name":"sma"},"mark":{"type":"line","strokeWidth":1.2,"interpolate":"monotone"},
   "encoding":{"x":{"field":"d","type":"temporal","scale":{"type":"utc","domain":[1541635200000,1645488000000],"nice":false}},
    "y":{"field":"b","type":"quantitative","scale":{"domain":[1150,71070],"nice":false,"zero":false}},
    "stroke":{"datum":"SMA(C,55)"},"strokeDash":{"datum":"SMA(C,55)"}}}
 ]
},
{
 "width":1143,"height":40,
 "layer":[
  {"data":{"name":"px"},"mark":{"type":"bar","width":2.3},
   "encoding":{
    "x":{"field":"d","type":"temporal","scale":{"type":"utc","domain":[1541635200000,1645488000000],"nice":false},
     "axis":{"title":null,"tickCount":500,"values":[1542844800000,1546300800000,1549756800000,1553212800000,1556668800000,1560124800000,1563580800000,1567036800000,1570492800000,1573948800000,1577404800000,1580860800000,1584316800000,1587772800000,1591228800000,1594684800000,1598140800000,1601596800000,1605052800000,1608508800000,1611964800000,1615420800000,1618876800000,1622332800000,1625788800000,1629244800000,1632700800000,1636156800000,1639612800000,1643068800000],"labelExpr":"(datum.value - 1546300800000) % 17280000000 == 0 ? utcFormat(datum.value, \"%b'%y\") : ''","labelOverlap":false,"labelPadding":0,"grid":true,"gridOpacity":{"condition":{"test":"(datum.value - 1546300800000) % 17280000000 == 0","value":1},"value":0},"tickSize":{"condition":{"test":"(datum.value - 1546300800000) % 17280000000 == 0","value":6},"value":3},"domain":true}},
    "y":{"field":"v","type":"quantitative","scale":{"domain":[0,415],"nice":false},
     "axis":{"title":"Volume","tickCount":500,"values":[0,100,200,300,400],"labelExpr":"datum.value == 0 ? '0' : datum.value + ' k'","labelOverlap":false,"grid":true}},
    "color":{"field":"u","type":"nominal","scale":{"domain":[1,0],"range":["#22e622","#ff6347"]},"legend":null}}}
 ]
}
]
}
